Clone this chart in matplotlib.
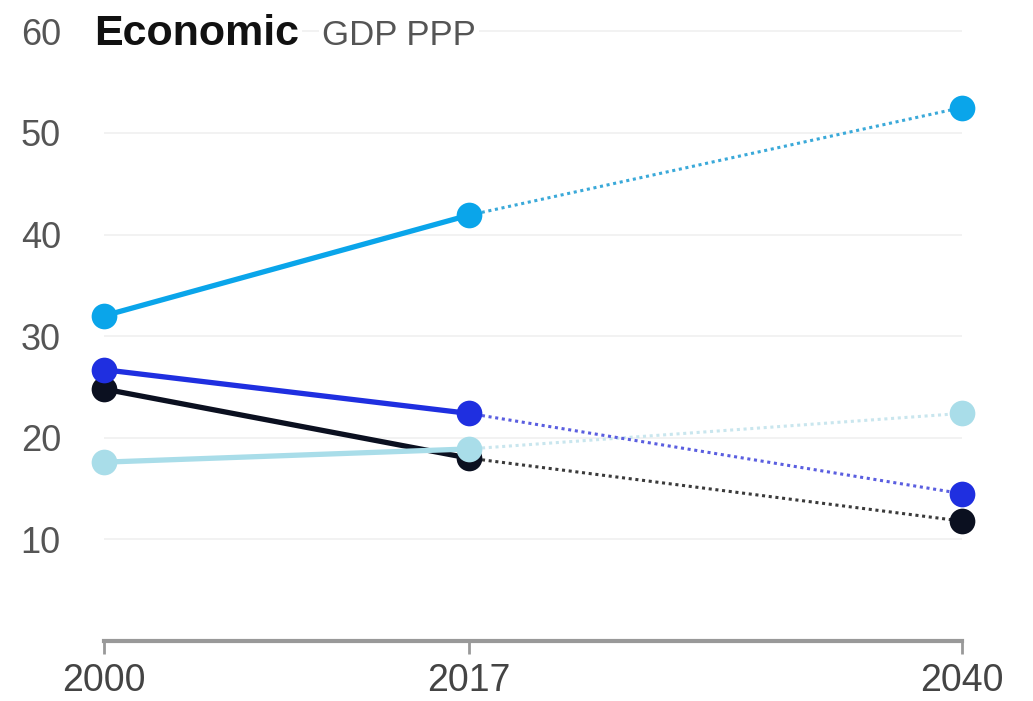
import matplotlib
matplotlib.use('Agg')
import matplotlib.pyplot as plt

# values
years = [2000, 2017, 2040]
series_names = ['black', 'pale', 'blue', 'sky']
values = {
    'black': [24.8, 18.0, 11.8],
    'pale': [17.6, 18.9, 22.4],
    'blue': [26.7, 22.4, 14.5],
    'sky': [32.0, 41.9, 52.5],
}
colors = {
    'black': '#0b1020',
    'pale': '#a9dde9',
    'blue': '#1f2fe0',
    'sky': '#0aa5ea',
}
dot_colors = {
    'black': '#3a3a3a',
    'pale': '#c9e6ee',
    'blue': '#5a5ee0',
    'sky': '#3aa9d9',
}
y_ticks = [10, 20, 30, 40, 50, 60]

plt.rcParams['font.family'] = ['Liberation Sans', 'DejaVu Sans']

fig = plt.figure(figsize=(10.33, 7.01), dpi=100)
ax = fig.add_axes([104 / 1033, 60 / 701, (962 - 104) / 1033, 630 / 701])
ax.set_xlim(2000, 2040)
ax.set_ylim(0, 62)

for name in series_names:
    v = values[name]
    # solid line for the observed part, dotted for the projection
    ax.plot(years[:2], v[:2], color=colors[name], linewidth=3.8,
            solid_capstyle='round', zorder=3, clip_on=False)
    ax.plot(years[1:], v[1:], color=dot_colors[name], linewidth=2.2,
            linestyle=(0, (1, 1.2)), zorder=2, clip_on=False)
    ax.plot(years, v, 'o', color=colors[name], markersize=18.5,
            markeredgewidth=0, zorder=4, clip_on=False)

for t in y_ticks:
    ax.axhline(t, color='#f0f0f0', linewidth=1.2, zorder=0)

ax.set_yticks(y_ticks)
ax.set_yticklabels([str(t) for t in y_ticks])
ax.tick_params(axis='y', length=0, pad=60, labelsize=26, labelcolor='#555555')
for lbl in ax.get_yticklabels():
    lbl.set_horizontalalignment('left')

ax.set_xticks(years)
ax.set_xticklabels([str(y) for y in years])
ax.tick_params(axis='x', length=9, width=2, color='#999999', pad=7,
               labelsize=27, labelcolor='#444444')

for side in ['top', 'right', 'left']:
    ax.spines[side].set_visible(False)
ax.spines['bottom'].set_color('#999999')
ax.spines['bottom'].set_linewidth(3)

# title sits over the 60 grid line
fig.text(94 / 1033, 1 - 45 / 701, 'Economic', fontsize=31, fontweight='bold',
         color='#111111', va='baseline', ha='left', zorder=5,
         bbox=dict(facecolor='white', edgecolor='none', pad=2))
fig.text(322 / 1033, 1 - 45 / 701, 'GDP PPP', fontsize=25, color='#555555',
         va='baseline', ha='left', zorder=5,
         bbox=dict(facecolor='white', edgecolor='none', pad=2))

plt.savefig('out.png', dpi=100)
